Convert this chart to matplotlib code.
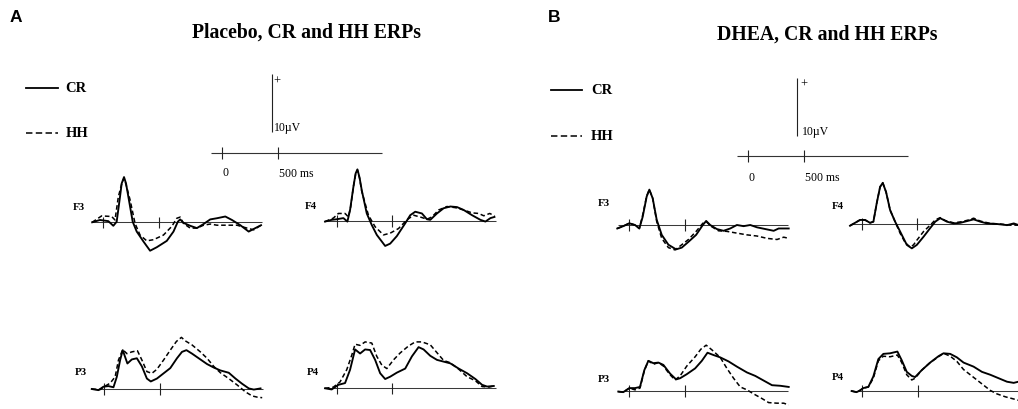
import matplotlib
matplotlib.use("Agg")
import matplotlib.pyplot as plt
from matplotlib.lines import Line2D

# ---------------- data (time in ms, amplitude in microvolts, positive up) ----------------
# Panel A: Placebo
tA_F3_cr = [-100,-30,45,90,120,150,165,186,204,225,264,300,360,420,480,570,630,669,690,720,780,840,900,960,1020,1095,1155,1230,1305,1365,1416]
vA_F3_cr = [0,0.4,0.2,-0.6,0.1,4.4,6.7,7.8,6.7,4.4,0.1,-1.6,-3.3,-4.9,-4.3,-3.2,-1.6,0.1,0.5,-0.1,-0.6,-1.0,-0.3,0.5,0.7,1.0,0.4,-0.5,-1.6,-1.0,-0.5]
tA_F3_hh = [-100,-15,75,105,135,165,186,204,240,285,330,390,450,540,615,660,690,720,780,840,900,960,1020,1110,1200,1290,1350,1416]
vA_F3_hh = [0,1.1,1.0,0.4,4.4,6.6,7.6,6.5,3.9,-0.2,-2.2,-3.2,-3.0,-2.2,-0.7,0.7,0.9,-0.2,-1.0,-1.0,-0.5,-0.3,-0.5,-0.5,-0.5,-1.0,-1.3,-0.5]

tA_F4_cr = [-105,-45,0,60,96,120,150,170,186,205,225,270,315,360,435,480,540,615,660,705,765,810,840,900,960,1020,1080,1140,1215,1290,1335,1380,1416]
vA_F4_cr = [-0.1,0.2,0.3,0.5,-0.1,1.9,5.9,8.2,8.9,7.5,5.3,1.3,-0.7,-2.4,-4.3,-3.9,-2.6,-0.4,1.0,1.6,1.3,0.3,0.2,1.3,2.2,2.5,2.4,1.9,1.0,0.2,-0.1,0.5,0.7]
tA_F4_hh = [-105,-30,15,75,105,126,150,170,186,205,225,285,345,420,480,555,630,690,765,810,855,915,990,1065,1140,1215,1275,1320,1374,1416]
vA_F4_hh = [-0.1,0.5,1.3,1.3,0.7,2.5,5.9,8.1,8.8,7.4,5.1,1.0,-1.0,-2.4,-2.1,-1.3,0.2,1.0,0.6,0.3,0.7,1.9,2.5,2.3,1.9,1.4,1.3,0.9,1.3,0.9]

tA_P3_cr = [-110,-50,-5,40,85,115,145,168,210,250,295,340,385,420,475,535,595,655,700,740,790,850,925,985,1045,1120,1180,1240,1300,1345,1405]
vA_P3_cr = [0,-0.2,0.4,0.5,0.3,2.1,5.0,6.7,4.4,5.1,5.3,3.9,1.8,1.3,1.8,2.7,3.6,5.3,6.4,6.7,6.1,5.3,4.3,3.7,3.2,2.8,1.8,0.9,0.1,-0.1,0.1]
tA_P3_hh = [-110,-35,10,55,100,130,168,205,250,300,340,385,430,475,535,595,650,695,730,790,865,925,985,1045,1120,1195,1270,1330,1375,1420]
vA_P3_hh = [0,-0.1,0.5,1.0,2.1,5.0,6.8,6.1,6.4,6.6,5.0,3.0,2.7,3.4,5.0,6.7,8.2,8.9,8.3,7.6,6.4,5.3,3.9,2.8,1.8,0.7,-0.5,-1.2,-1.4,-1.5]

tA_P4_cr = [-105,-45,15,75,120,165,210,255,300,345,390,435,480,540,615,675,735,780,840,900,960,1020,1095,1170,1245,1305,1350,1410]
vA_P4_cr = [0,-0.2,0.6,0.9,3.2,6.7,6.0,6.7,6.6,4.9,2.6,1.6,2.0,2.7,3.4,5.5,7.1,6.7,5.6,4.9,4.6,4.3,3.4,2.6,1.6,0.6,0.3,0.4]
tA_P4_hh = [-105,-30,30,90,135,165,210,255,315,360,405,450,510,570,645,705,765,840,915,960,1020,1095,1170,1245,1305,1365,1410]
vA_P4_hh = [0,0.2,1.1,3.2,5.7,7.6,7.4,8.0,7.8,5.5,4.0,3.4,4.9,6.1,7.3,8.0,8.0,7.5,5.8,4.8,4.4,3.3,2.0,1.3,0.3,0.2,0.4]

# Panel B: DHEA
tB_F3_cr = [-108,-54,0,51,90,120,156,180,210,246,291,351,420,471,531,600,660,690,726,786,846,906,966,1026,1086,1146,1221,1296,1341,1386,1431]
vB_F3_cr = [-0.6,-0.2,0.3,0,-0.6,1.4,4.9,6.1,4.6,0.9,-1.7,-3.4,-4.2,-3.9,-2.9,-1.7,0,0.7,0,-0.7,-1.0,-0.6,0,-0.2,0,-0.4,-0.7,-1.0,-0.6,-0.6,-0.6]
tB_F3_hh = [-108,-54,0,51,90,120,156,180,210,246,291,351,411,471,531,600,660,690,732,801,876,966,1056,1146,1236,1326,1386,1431]
vB_F3_hh = [-0.6,-0.2,0.3,0,-0.6,1.7,5.0,6.1,4.6,0.6,-2.3,-3.9,-4.3,-3.4,-2.5,-1.1,0.3,0.6,-0.2,-1.0,-1.1,-1.4,-1.7,-1.9,-2.3,-2.5,-2.1,-2.3]

tB_F4_cr = [-105,-60,-15,30,75,105,135,165,189,219,255,300,345,405,450,495,555,615,660,705,765,825,885,945,1005,1065,1125,1215,1305,1365,1410]
vB_F4_cr = [-0.3,0.2,0.7,0.7,0.2,0.4,3.6,6.4,7.1,5.5,2.4,0.4,-1.3,-3.6,-4.2,-3.6,-2.2,-0.7,0.4,1.0,0.4,0.1,0.2,0.5,0.8,0.4,0.1,0,-0.2,0.1,-0.2]
tB_F4_hh = [-105,-60,-15,30,75,105,135,165,189,219,255,300,345,390,435,465,495,555,615,660,705,750,825,900,960,1005,1065,1155,1245,1335,1410]
vB_F4_hh = [-0.3,0.2,0.7,0.7,0.2,0.4,3.6,6.4,7.1,5.5,2.4,0.4,-1.6,-3.2,-4.0,-3.6,-2.8,-1.3,-0.2,0.7,1.1,0.6,0.2,0.4,0.7,1.0,0.5,0.1,0,-0.2,-0.2]

tB_P3_cr = [-99,-54,0,51,96,135,171,216,261,306,366,420,456,516,591,651,702,756,816,891,966,1056,1131,1206,1281,1356,1431]
vB_P3_cr = [-0.1,-0.2,0.5,0.5,0.7,3.6,5.2,4.8,4.9,4.5,3.0,2.0,2.2,2.9,3.9,5.2,6.6,6.2,5.8,5.1,4.2,3.2,2.6,1.8,1.0,0.9,0.7]
tB_P3_hh = [-99,-54,0,51,96,135,171,216,261,306,366,411,456,516,591,642,690,741,816,876,936,996,1056,1116,1191,1251,1326,1386,1431]
vB_P3_hh = [-0.1,-0.2,0.5,0.2,0.5,3.5,5.2,4.6,4.9,4.3,2.8,1.9,2.6,4.3,5.9,7.2,7.9,7.1,5.8,3.9,2.2,0.7,0.2,-0.5,-1.3,-2.0,-2.1,-2.1,-2.4]

tB_P4_cr = [-96,-51,-21,9,54,99,144,189,249,315,354,399,444,474,534,609,684,729,789,849,909,999,1074,1149,1224,1299,1359,1401]
vB_P4_cr = [0,-0.2,0.1,0.5,0.7,2.5,5.5,6.4,6.5,6.8,5.3,3.3,2.6,2.4,3.6,4.9,6.0,6.5,6.4,5.8,4.9,4.2,3.3,2.8,2.2,1.6,1.4,1.6]
tB_P4_hh = [-96,-51,-21,9,54,99,144,189,249,315,354,399,444,474,534,609,684,729,789,849,909,969,1029,1089,1149,1209,1284,1344,1401]
vB_P4_hh = [0,-0.2,0.1,0.5,0.7,2.2,5.2,6.0,5.9,6.2,4.9,2.8,1.9,2.2,3.6,4.9,5.9,6.5,6.0,5.1,3.7,2.8,1.9,1.0,0.1,-0.5,-1.0,-1.3,-1.6]

channels = ["F3", "F4", "P3", "P4"]
conditions = ["CR", "HH"]
titles = ["Placebo, CR and HH ERPs", "DHEA, CR and HH ERPs"]
panel_letters = ["A", "B"]
scale_ticks_ms = [0, 500]
scale_uv = 10

# ---------------- layout ----------------
W, H = 1018, 409
PX_MS = 0.1114
PX_UV = 5.8
fig = plt.figure(figsize=(W / 100, H / 100), dpi=100)
fig.patch.set_facecolor("white")

SERIF = "Liberation Serif"
SANS = "Liberation Sans"


def ftext(x, y, s, **kw):
    fig.text(x / W, 1 - y / H, s, **kw)


def make_axes(ox, oy, t0=-160, t1=1520, v0=-8, v1=15):
    left = ox + t0 * PX_MS
    width = (t1 - t0) * PX_MS
    bottom_px = oy - v0 * PX_UV
    height = (v1 - v0) * PX_UV
    ax = fig.add_axes([left / W, 1 - bottom_px / H, width / W, height / H])
    ax.set_xlim(t0, t1)
    ax.set_ylim(v0, v1)
    ax.axis("off")
    ax.patch.set_alpha(0)
    return ax


data = {
    ("A", "F3"): (tA_F3_cr, vA_F3_cr, tA_F3_hh, vA_F3_hh),
    ("A", "F4"): (tA_F4_cr, vA_F4_cr, tA_F4_hh, vA_F4_hh),
    ("A", "P3"): (tA_P3_cr, vA_P3_cr, tA_P3_hh, vA_P3_hh),
    ("A", "P4"): (tA_P4_cr, vA_P4_cr, tA_P4_hh, vA_P4_hh),
    ("B", "F3"): (tB_F3_cr, vB_F3_cr, tB_F3_hh, vB_F3_hh),
    ("B", "F4"): (tB_F4_cr, vB_F4_cr, tB_F4_hh, vB_F4_hh),
    ("B", "P3"): (tB_P3_cr, vB_P3_cr, tB_P3_hh, vB_P3_hh),
    ("B", "P4"): (tB_P4_cr, vB_P4_cr, tB_P4_hh, vB_P4_hh),
}

# pixel positions of (0 ms, 0 uV) for each plot and of its channel label
origins = {
    ("A", "F3"): (103.3, 222.3), ("A", "F4"): (336.7, 221.0),
    ("A", "P3"): (104.0, 389.0), ("A", "P4"): (336.7, 388.3),
    ("B", "F3"): (629.3, 225.0), ("B", "F4"): (861.7, 224.0),
    ("B", "P3"): (629.3, 391.0), ("B", "P4"): (862.3, 391.0),
}
label_pos = {
    ("A", "F3"): (73, 207.5), ("A", "F4"): (305, 207),
    ("A", "P3"): (75, 372.5), ("A", "P4"): (306.5, 372.5),
    ("B", "F3"): (598, 203.5), ("B", "F4"): (831.5, 207),
    ("B", "P3"): (598, 380), ("B", "P4"): (831.5, 377.5),
}

DASH = (0, (3.0, 1.8))
for key, (tc, vc, th, vh) in data.items():
    ox, oy = origins[key]
    ax = make_axes(ox, oy)
    ax.hlines(0, -100, 1428, color="#3a3a3a", lw=0.75)
    ax.vlines(scale_ticks_ms, -0.95, 0.95, color="#222222", lw=0.8)
    ax.plot(th, vh, color="black", lw=1.1, ls=DASH)
    ax.plot(tc, vc, color="black", lw=1.35)
    lx, ly = label_pos[key]
    ftext(lx, ly, key[1], family=SERIF, weight="bold", fontsize=7.8, va="center", ha="left")

# panel headers, legends, scale bars
panel_cfg = {
    "A": dict(letter=(10, 18), title=(306, 32.5), leg_x=(26, 58), leg_tx=65.5, leg_y=(88, 133.3),
              scale_origin=(222.3, 152.7), vbar_t=443, vbar_v0=3.6,
              plus=(276.5, 81.5), uv=(274, 128.5), zero=(225.7, 173.5), ms=(279, 174)),
    "B": dict(letter=(548, 18), title=(827.5, 35), leg_x=(551, 582), leg_tx=591, leg_y=(90, 136),
              scale_origin=(748.3, 155.7), vbar_t=437, vbar_v0=3.4,
              plus=(804, 84.5), uv=(801.5, 132), zero=(751.7, 177.7), ms=(805, 177.7)),
}

for i, p in enumerate(panel_letters):
    c = panel_cfg[p]
    ftext(*c["letter"], p, family=SANS, weight="bold", fontsize=12.5, va="center", ha="left")
    ftext(*c["title"], titles[i], family=SERIF, weight="bold", fontsize=14.2, va="center", ha="center")
    # legend
    for cond, y, ls, lw in zip(conditions, c["leg_y"], ["-", (0, (4.2, 2.2))], [1.3, 1.1]):
        x0, x1 = c["leg_x"]
        fig.add_artist(Line2D([x0 / W, x1 / W], [1 - y / H, 1 - y / H], color="black", lw=lw, ls=ls,
                              transform=fig.transFigure))
        ftext(c["leg_tx"], y, cond, family=SERIF, weight="bold", fontsize=10.5, va="center", ha="left")
    # scale bar
    sx, sy = c["scale_origin"]
    sax = make_axes(sx, sy, t0=-200, t1=1500, v0=-6, v1=15)
    sax.hlines(0, -104, 1432, color="#333333", lw=0.8)
    sax.vlines(scale_ticks_ms, -1.05, 1.05, color="#222222", lw=0.8)
    sax.vlines(c["vbar_t"], c["vbar_v0"], c["vbar_v0"] + scale_uv, color="#222222", lw=0.8)
    ftext(*c["plus"], "+", family=SERIF, fontsize=9, va="center", ha="center")
    ftext(*c["uv"], "10\u00b5V", family=SERIF, fontsize=8.5, va="center", ha="left")
    ftext(*c["zero"], "0", family=SERIF, fontsize=8.5, va="center", ha="center")
    ftext(*c["ms"], "500 ms", family=SERIF, fontsize=8.5, va="center", ha="left")

fig.savefig("out.png", dpi=100, facecolor="white")
